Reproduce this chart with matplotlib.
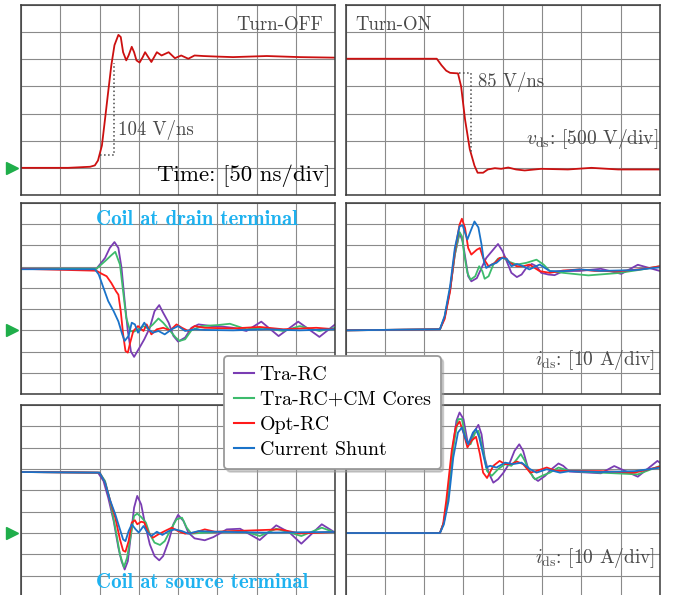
import numpy as np
import matplotlib
matplotlib.use("Agg")
import matplotlib.pyplot as plt
from matplotlib.lines import Line2D

plt.rcParams['font.family'] = 'cmr10'
plt.rcParams['mathtext.fontset'] = 'cm'
plt.rcParams['axes.unicode_minus'] = False

# ---- data (time in ns, v_ds in V, i_ds in A) ----
# v_ds turn-off
t_voff = [0, 60, 88, 94, 98, 103, 107, 111, 115, 119, 124, 127, 130, 134, 137, 141, 144, 147, 151, 155, 158, 162, 166, 173, 179, 188, 196, 204, 213, 221, 232, 249, 270, 313, 355, 400]
v_off = [0, 0, 20, 45, 135, 410, 900, 1400, 1890, 2260, 2450, 2410, 2130, 1980, 2070, 2230, 2130, 1980, 1940, 2040, 2130, 2040, 1950, 2130, 2070, 2130, 2020, 2070, 2010, 2070, 2060, 2050, 2040, 2060, 2040, 2030]
# v_ds turn-on
t_von = [0, 60, 116, 122, 128, 133, 143, 147, 152, 158, 164, 168, 175, 181, 190, 198, 207, 217, 228, 249, 283, 313, 347, 400]
v_on = [2010, 2010, 2010, 1890, 1790, 1750, 1740, 1500, 890, 345, 40, -90, -90, -30, -6, -18, 6, -30, -48, -18, -30, 0, -30, -30]

# i_ds, coil at drain terminal, turn-off
t_d_off_tra = [0, 96, 107, 113, 119, 124, 128, 132, 136, 140, 144, 151, 157, 164, 170, 176, 181, 188, 194, 200, 209, 217, 226, 243, 255, 270, 287, 306, 328, 353, 380, 400]
i_d_off_tra = [29.0, 29.0, 34.1, 38.8, 41.6, 38.8, 29.4, 13.8, -0.3, -10.0, -12.5, -8.1, -4.2, 1.2, 9.0, 11.9, 8.3, 3.6, -2.6, -5.3, -3.4, 1.2, 2.8, 2.0, 1.8, 1.2, -0.3, 4.1, -2.7, 4.1, -3.1, 2.8]
t_d_off_cm = [0, 96, 107, 115, 120, 126, 130, 134, 139, 144, 149, 156, 162, 168, 175, 181, 190, 197, 202, 209, 217, 230, 251, 266, 287, 308, 334, 355, 380, 400]
i_d_off_cm = [29.0, 29.0, 32.6, 35.4, 37.0, 31.0, 18.4, 5.9, -0.3, -0.6, 0.5, 2.0, 0.9, 2.8, 5.6, 3.6, -0.3, -3.4, -5.0, -4.2, 0.0, 2.0, 2.5, 3.1, 0.5, 1.2, -0.3, 2.0, -0.3, 1.2]
t_d_off_opt = [0, 96, 103, 109, 115, 121, 124, 127, 130, 133, 136, 139, 143, 149, 156, 160, 166, 173, 181, 190, 198, 205, 213, 221, 234, 270, 304, 334, 376, 400]
i_d_off_opt = [29.0, 28.1, 26.6, 25.5, 22.3, 18.4, 16.8, 9.0, -1.9, -9.7, -10.5, -5.8, -0.3, 2.0, -0.3, 2.8, -1.9, 0.5, 1.2, 0.0, 2.8, 1.2, -0.3, 2.0, 1.2, 0.9, 1.6, 0.5, 1.2, 0.5]
t_d_off_sh = [0, 94, 99, 105, 111, 118, 124, 129, 132, 137, 141, 145, 149, 153, 157, 162, 168, 175, 183, 192, 200, 209, 221, 234, 270, 313, 355, 400]
i_d_off_sh = [28.8, 28.8, 26.3, 20.0, 13.8, 9.0, 4.2, -2.0, -5.0, -2.6, 3.6, 2.8, -1.1, 1.2, 3.6, 0.5, -1.1, -0.3, -1.9, 0.5, 2.0, -0.3, 0.5, 0.2, 0.0, 0.5, 0.0, 0.5]

# i_ds, coil at drain terminal, turn-on
t_d_on_tra = [0, 120, 126, 133, 139, 145, 149, 153, 156, 160, 167, 173, 179, 186, 194, 200, 205, 211, 218, 224, 230, 237, 243, 249, 258, 266, 277, 298, 325, 351, 372, 400]
i_d_on_tra = [0, 0.5, 6.1, 19.3, 35.7, 45.8, 41.9, 32.6, 25.5, 23.1, 24.6, 29.4, 34.1, 37.2, 40.7, 37.2, 32.6, 27.1, 25.1, 26.3, 29.4, 31.3, 30.2, 27.1, 26.3, 26.0, 27.9, 28.0, 29.0, 26.6, 30.9, 28.0]
t_d_on_cm = [0, 120, 126, 133, 139, 145, 148, 151, 155, 159, 165, 170, 174, 177, 182, 188, 194, 201, 209, 218, 230, 243, 252, 260, 277, 298, 309, 347, 376, 400]
i_d_on_cm = [0, 0.5, 6.1, 19.3, 35.7, 46.3, 44.3, 35.7, 27.1, 23.9, 25.5, 30.2, 27.9, 24.3, 25.5, 31.0, 33.8, 34.1, 32.2, 31.0, 31.8, 33.3, 31.0, 27.9, 27.1, 26.3, 25.9, 27.0, 28.6, 30.2]
t_d_on_opt = [0, 120, 126, 133, 139, 145, 148, 152, 156, 160, 167, 171, 175, 182, 190, 196, 203, 209, 218, 226, 234, 247, 260, 277, 298, 317, 347, 380, 400]
i_d_on_opt = [0, 0.5, 5.3, 18.5, 37.2, 49.8, 52.6, 48.2, 38.8, 35.7, 38.0, 38.8, 34.1, 30.2, 31.8, 34.1, 34.4, 31.8, 30.2, 30.2, 31.0, 27.9, 27.1, 28.2, 28.7, 28.0, 27.8, 29.0, 30.2]
t_d_on_sh = [0, 120, 126, 133, 139, 145, 149, 152, 155, 159, 164, 169, 173, 176, 179, 186, 192, 199, 205, 211, 218, 226, 234, 247, 260, 277, 298, 325, 368, 400]
i_d_on_sh = [0, 0.5, 6.8, 20.9, 38.8, 49.0, 49.5, 45.9, 42.8, 46.7, 51.3, 48.5, 40.4, 32.6, 29.4, 31.0, 31.8, 34.1, 33.8, 30.2, 31.3, 30.2, 28.7, 31.0, 27.9, 27.9, 28.7, 28.0, 28.4, 29.7]

# i_ds, coil at source terminal, turn-off
t_s_off_tra = [0, 98, 105, 111, 118, 124, 128, 132, 136, 140, 144, 148, 153, 158, 164, 170, 176, 181, 188, 194, 200, 207, 213, 221, 234, 245, 255, 262, 279, 304, 325, 342, 357, 383, 400]
i_s_off_tra = [28.6, 28.3, 24.4, 16.6, 5.6, -6.9, -13.2, -17.1, -13.2, -0.6, 11.9, 17.4, 13.4, 4.1, -5.3, -10.8, -12.8, -10.8, -3.8, 4.1, 8.5, 5.6, 0.2, -2.5, -3.4, -1.9, 0.2, 1.7, 2.0, -3.3, 3.6, 0.2, -5.0, 4.1, 0.2]
t_s_off_cm = [0, 100, 107, 113, 120, 126, 131, 135, 140, 144, 148, 153, 159, 164, 170, 177, 183, 192, 198, 205, 211, 217, 234, 255, 283, 304, 325, 357, 383, 400]
i_s_off_cm = [28.6, 28.3, 24.4, 15.8, 2.5, -10.0, -16.0, -11.6, -0.6, 8.0, 9.1, 7.5, 4.9, -0.6, -4.5, -5.6, -3.8, 2.5, 6.4, 7.2, 2.5, -0.3, 0.2, 0.6, 0.9, -1.4, 2.0, -1.4, 2.5, 0.2]
t_s_off_opt = [0, 100, 107, 113, 120, 126, 130, 133, 137, 141, 145, 148, 153, 157, 162, 168, 175, 183, 192, 200, 209, 221, 234, 247, 270, 330, 355, 400]
i_s_off_opt = [28.6, 28.3, 23.6, 15.8, 7.2, -3.0, -8.2, -8.8, -3.8, 4.9, 6.0, 4.1, 5.3, 4.9, 0.2, -2.2, -0.6, 0.9, 2.5, 0.9, -0.3, 0.2, 1.7, 0.6, 0.9, 1.7, -0.2, 0.5]
t_s_off_sh = [0, 100, 107, 113, 120, 126, 130, 133, 137, 141, 146, 150, 156, 161, 166, 173, 180, 188, 196, 205, 213, 226, 247, 313, 400]
i_s_off_sh = [28.6, 28.3, 23.6, 15.8, 8.8, 1.7, -3.0, -3.8, 0.9, 4.1, 1.7, 0.2, 3.3, 0.2, -1.4, 0.6, -0.9, 0.9, 1.7, 0.9, -0.3, 0.9, 0.6, 0.2, 0.5]

# i_ds, coil at source terminal, turn-on
t_s_on_tra = [0, 120, 125, 131, 137, 141, 145, 150, 155, 158, 163, 169, 173, 177, 182, 188, 194, 201, 209, 215, 221, 226, 232, 239, 245, 254, 262, 271, 277, 285, 325, 342, 372, 397, 400]
i_s_on_tra = [0, 0, 5.0, 18.2, 41.6, 52.6, 56.5, 53.4, 43.2, 41.6, 47.1, 50.7, 46.3, 35.4, 28.3, 23.6, 25.2, 28.3, 33.0, 38.5, 41.6, 38.5, 30.7, 26.0, 24.4, 26.8, 29.9, 32.6, 31.5, 28.8, 28.0, 31.4, 26.4, 33.8, 33.0]
t_s_on_cm = [0, 120, 125, 131, 137, 143, 148, 154, 159, 165, 169, 175, 180, 186, 194, 203, 211, 218, 223, 228, 235, 241, 250, 260, 271, 285, 325, 372, 400]
i_s_on_cm = [0, 0, 5.0, 19.7, 40.1, 53.4, 53.4, 42.4, 41.6, 47.1, 47.9, 38.5, 29.1, 26.8, 29.9, 32.3, 31.5, 34.6, 37.0, 33.9, 28.3, 25.2, 26.8, 28.3, 30.7, 29.1, 28.3, 27.5, 31.4]
t_s_on_opt = [0, 120, 124, 128, 135, 140, 145, 150, 155, 160, 166, 171, 175, 180, 188, 196, 203, 211, 218, 226, 235, 243, 256, 268, 285, 325, 368, 400]
i_s_on_opt = [0, 0, 4.0, 15.0, 38.5, 49.5, 52.3, 47.1, 40.1, 43.2, 45.1, 36.9, 28.3, 25.8, 31.5, 33.8, 32.3, 32.3, 33.5, 32.3, 28.3, 29.1, 30.7, 29.1, 29.1, 29.0, 28.3, 31.1]
t_s_on_sh = [0, 120, 125, 131, 137, 143, 148, 152, 156, 162, 166, 170, 175, 179, 184, 192, 203, 213, 224, 235, 243, 256, 273, 285, 325, 368, 400]
i_s_on_sh = [0, 0, 4.0, 15.0, 35.4, 47.1, 49.5, 44.8, 41.6, 47.1, 48.7, 44.8, 36.9, 30.7, 31.5, 30.7, 33.0, 32.3, 33.0, 29.9, 28.3, 29.9, 28.3, 29.0, 28.6, 29.0, 30.6]

labels = ["Tra-RC", "Tra-RC+CM Cores", "Opt-RC", "Current Shunt"]
colors = ["#7a3db3", "#3dbb6c", "#ff1a1a", "#1a73c9"]

GRAY = "#4a4a4a"
CYAN = "#1eb2f0"
MARK = "#1fae4a"

fig = plt.figure(figsize=(6.74, 5.95), dpi=100)

def make_ax(rect, ylim, ystep):
    ax = fig.add_axes(rect)
    ax.set_xlim(0, 400)
    ax.set_ylim(*ylim)
    ax.set_xticks(np.arange(0, 401, 50))
    ax.set_yticks(np.arange(ylim[0], ylim[1] + 1, ystep))
    ax.tick_params(length=0, labelleft=False, labelbottom=False)
    ax.grid(True, color="#8a8a8a", lw=0.8)
    ax.set_axisbelow(True)
    for s in ax.spines.values():
        s.set_color("#3a3a3a")
        s.set_linewidth(1.1)
    return ax

L1, L2, W = 0.0312, 0.5129, 0.466
ax_voff = make_ax([L1, 0.6723, W, 0.3193], (-500, 3000), 500)
ax_von = make_ax([L2, 0.6723, W, 0.3193], (-500, 3000), 500)
ax_doff = make_ax([L1, 0.3378, W, 0.321], (-30, 60), 10)
ax_don = make_ax([L2, 0.3378, W, 0.321], (-30, 60), 10)
ax_soff = make_ax([L1, -0.0034, W, 0.3227], (-30, 60), 10)
ax_son = make_ax([L2, -0.0034, W, 0.3227], (-30, 60), 10)

# voltage traces
ax_voff.plot(t_voff, v_off, color="#cc1010", lw=1.3)
ax_von.plot(t_von, v_on, color="#cc1010", lw=1.3)

# slope annotations
ax_voff.plot([101, 119, 119], [236, 236, 1933], ls=":", color=GRAY, lw=1.1)
ax_voff.text(124, 690, "104 V/ns", color=GRAY, fontsize=13.5, va="center", ha="left")
ax_von.plot([144, 160, 160], [1739, 1739, 273], ls=":", color=GRAY, lw=1.1)
ax_von.text(169, 1576, "85 V/ns", color=GRAY, fontsize=13.5, va="center", ha="left")

ax_voff.text(0.962, 0.895, "Turn-OFF", transform=ax_voff.transAxes, color=GRAY,
             fontsize=13.5, ha="right", va="center")
ax_voff.text(0.984, 0.10, "Time: [50 ns/div]", transform=ax_voff.transAxes, color="black",
             fontsize=16.5, ha="right", va="center")
ax_von.text(0.032, 0.895, "Turn-ON", transform=ax_von.transAxes, color=GRAY,
            fontsize=13.5, ha="left", va="center")
ax_von.text(0.994, 0.296, r"$v_{\mathrm{ds}}$: [500 V/div]", transform=ax_von.transAxes,
            color=GRAY, fontsize=14, ha="right", va="center")

# current traces
sets = [
    (ax_doff, [(t_d_off_tra, i_d_off_tra), (t_d_off_cm, i_d_off_cm), (t_d_off_opt, i_d_off_opt), (t_d_off_sh, i_d_off_sh)]),
    (ax_don, [(t_d_on_tra, i_d_on_tra), (t_d_on_cm, i_d_on_cm), (t_d_on_opt, i_d_on_opt), (t_d_on_sh, i_d_on_sh)]),
    (ax_soff, [(t_s_off_tra, i_s_off_tra), (t_s_off_cm, i_s_off_cm), (t_s_off_opt, i_s_off_opt), (t_s_off_sh, i_s_off_sh)]),
    (ax_son, [(t_s_on_tra, i_s_on_tra), (t_s_on_cm, i_s_on_cm), (t_s_on_opt, i_s_on_opt), (t_s_on_sh, i_s_on_sh)]),
]
for ax, traces in sets:
    for (t, i), c in zip(traces, colors):
        ax.plot(t, i, color=c, lw=1.3)

ax_doff.text(0.239, 0.916, "Coil at drain terminal", transform=ax_doff.transAxes,
             color=CYAN, fontsize=15, family="cmb10", ha="left", va="center")
ax_soff.text(0.239, 0.078, "Coil at source terminal", transform=ax_soff.transAxes,
             color=CYAN, fontsize=15, family="cmb10", ha="left", va="center")
ax_don.text(0.984, 0.178, r"$i_{\mathrm{ds}}$: [10 A/div]", transform=ax_don.transAxes,
            color=GRAY, fontsize=14, ha="right", va="center")
ax_son.text(0.984, 0.203, r"$i_{\mathrm{ds}}$: [10 A/div]", transform=ax_son.transAxes,
            color=GRAY, fontsize=14, ha="right", va="center")

# zero-level markers
for ax in (ax_voff, ax_doff, ax_soff):
    ax.plot(-12, 0, marker=">", color=MARK, ms=9, clip_on=False)

handles = [Line2D([], [], color=c, lw=1.5) for c in colors]
leg = fig.legend(handles, labels, loc="upper left", bbox_to_anchor=(0.3323, 0.4017),
                 borderaxespad=0, fontsize=14.3, handlelength=1.0, handletextpad=0.3,
                 labelspacing=0.36, borderpad=0.5, fancybox=True,
                 shadow={"color": "0.6", "alpha": 0.45}, framealpha=1, edgecolor="#9a9a9a")
leg.get_frame().set_linewidth(1.3)

fig.savefig("out.png", dpi=100)
